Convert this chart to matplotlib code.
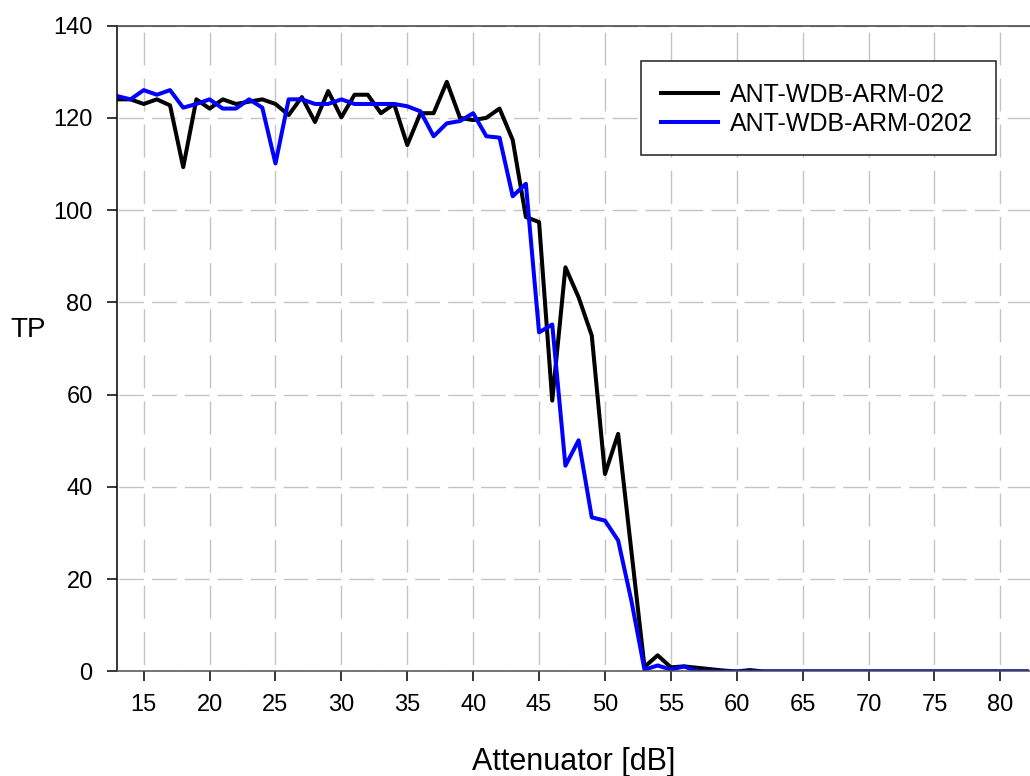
import matplotlib
matplotlib.use('Agg')
import matplotlib.pyplot as plt
from matplotlib.patches import Rectangle
import numpy as np

plt.rcParams['font.family'] = ['Liberation Sans', 'DejaVu Sans']

# Attenuator settings (dB), 1 dB steps
atten = np.arange(13, 83)

# TP for ANT-WDB-ARM-02 (black)
tp_02 = [124, 124, 123, 124, 122.7, 109.3, 124, 122, 124, 123,
         123.5, 124, 123, 120.6, 124.5, 119.1, 125.8, 120.1, 125, 125,
         121, 123, 114.1, 121, 121, 127.8, 120, 119.5, 120, 122,
         115.2, 98.5, 97.4, 58.7, 87.6, 81.1, 72.8, 42.8, 51.5, 26.2,
         1.0, 3.5, 0.9, 1.1, 0.8, 0.5, 0.2, 0, 0.3, 0] + [0] * 20

# TP for ANT-WDB-ARM-0202 (blue)
tp_0202 = [124.7, 124, 126, 125, 126, 122.2, 123, 124, 122, 122,
           124, 122.2, 110.1, 124, 124, 123, 123, 124, 123, 123,
           123, 123, 122.5, 121.4, 116, 118.8, 119.3, 121, 116, 115.7,
           103, 105.7, 73.5, 75.2, 44.6, 50.1, 33.4, 32.7, 28.4, 15.4,
           0.4, 1.3, 0.4, 1.1, 0, 0, 0, 0, 0, 0] + [0] * 20

labels = ['ANT-WDB-ARM-02', 'ANT-WDB-ARM-0202']
x_ticks = np.arange(15, 81, 5)
y_ticks = np.arange(0, 141, 20)

fig = plt.figure(figsize=(10.30, 7.76), dpi=100)
ax = fig.add_axes([0.1139, 0.1347, 0.8861, 0.8324])

ax.plot(atten, tp_02, color='black', lw=2.9, label=labels[0])
ax.plot(atten, tp_0202, color='#0000ff', lw=2.9, label=labels[1])

ax.set_xlim(13, 82.25)
ax.set_ylim(0, 140)
ax.set_xticks(x_ticks)
ax.set_yticks(y_ticks)

# dashed grid, gaps of vertical lines sit on horizontal grid lines
ax.xaxis.grid(True, color='#c4c4c4', lw=1.0, linestyle=(28.5, (23.8, 9.4)))
ax.yaxis.grid(True, color='#c4c4c4', lw=1.0, linestyle=(22.6, (17.9, 5.8)))
ax.set_axisbelow(True)

ax.spines['right'].set_visible(False)
ax.spines['top'].set_color('#404040')
ax.spines['left'].set_color('black')
ax.spines['bottom'].set_color('#505050')
for s in ['top', 'left', 'bottom']:
    ax.spines[s].set_linewidth(1.1)

ax.tick_params(axis='x', direction='out', length=7.2, width=1.1, color='black',
               labelsize=17, pad=9)
ax.tick_params(axis='y', direction='out', length=7.2, width=1.1, color='black',
               labelsize=17, pad=10.5)

ax.set_xlabel('Attenuator [dB]', fontsize=22, labelpad=22)
ax.set_ylabel('TP', fontsize=20, rotation=0, ha='center', va='center')
ax.yaxis.set_label_coords(-0.098, 0.528)

# legend box
ax.add_patch(Rectangle((0.5735, 0.7988), 0.3892, 0.1459, transform=ax.transAxes,
                       facecolor='white', edgecolor='#202020', lw=1.1, zorder=4))
leg = ax.legend(loc='center left', bbox_to_anchor=(0.5735, 0.8705), borderaxespad=0,
                fontsize=18, frameon=False, borderpad=0.8, handlelength=2.3,
                handletextpad=0.45, labelspacing=0.2)
leg.set_zorder(5)

fig.savefig('out.png', dpi=100)
